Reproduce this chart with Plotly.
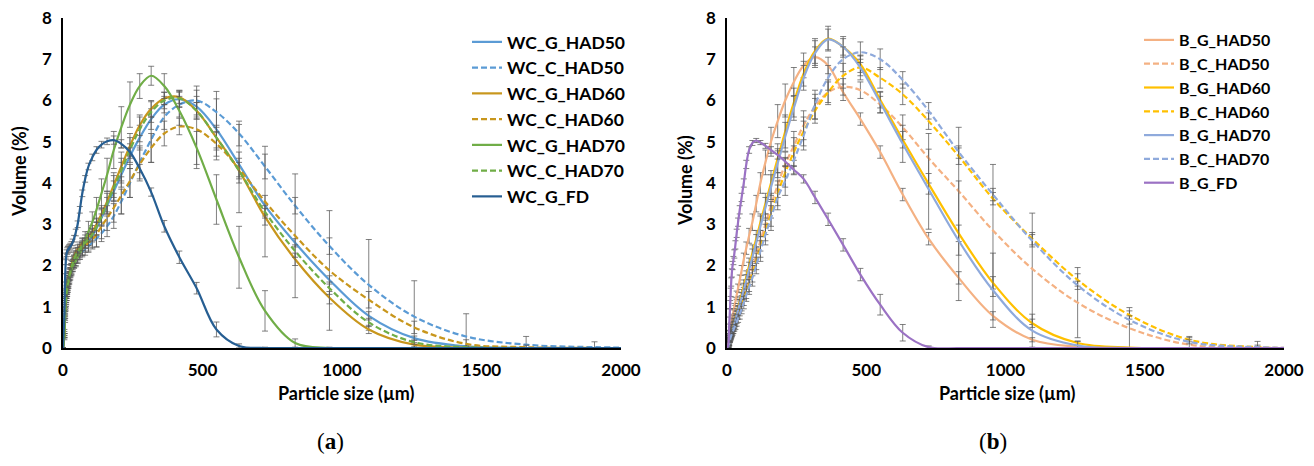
import plotly.graph_objects as go

# particle size classes (um)
x_um = [0, 5.0, 7.6, 10.0, 11.5, 13.2, 15.1, 17.4, 20.0, 22.9,
        26.3, 30.2, 34.7, 39.8, 45.7, 52.5, 60.3, 69.2, 79.4, 91.2,
        105, 120, 138, 158, 182, 209, 240, 275, 316, 363,
        417, 479, 550, 631, 724, 832, 955, 1096, 1259, 1445,
        1660, 1905, 2188]

# ---- panel (a) ----
wc_g_had50 = [0, 0.3, 0.8, 1.1, 1.25, 1.35, 1.45, 1.55, 1.65, 1.75,
              1.85, 1.95, 2.05, 2.15, 2.25, 2.33, 2.4, 2.47, 2.53, 2.6,
              2.72, 2.9, 3.15, 3.45, 3.8, 4.2, 4.65, 5.1, 5.55, 5.9,
              6.03, 5.85, 5.3, 4.45, 3.45, 2.55, 1.65, 0.78, 0.24, 0.04,
              0.0, 0.0, 0.0]
wc_c_had50 = [0, 0.25, 0.7, 1.0, 1.15, 1.25, 1.35, 1.45, 1.55, 1.65,
              1.75, 1.85, 1.95, 2.05, 2.12, 2.2, 2.27, 2.33, 2.4, 2.47,
              2.55, 2.65, 2.78, 2.95, 3.2, 3.55, 4.0, 4.5, 5.05, 5.6,
              5.9, 6.0, 5.72, 5.2, 4.4, 3.45, 2.47, 1.53, 0.76, 0.28,
              0.08, 0.02, 0.0]
wc_g_had60 = [0, 0.35, 0.85, 1.15, 1.3, 1.4, 1.5, 1.6, 1.72, 1.82,
              1.92, 2.02, 2.12, 2.22, 2.32, 2.4, 2.47, 2.55, 2.62, 2.7,
              2.82, 3.0, 3.25, 3.55, 3.95, 4.4, 4.9, 5.4, 5.8, 6.05,
              6.08, 5.75, 5.1, 4.3, 3.18, 2.15, 1.22, 0.45, 0.08, 0.01,
              0.0, 0.0, 0.0]
wc_c_had60 = [0, 0.3, 0.75, 1.05, 1.2, 1.3, 1.4, 1.5, 1.6, 1.7,
              1.8, 1.9, 2.0, 2.1, 2.18, 2.25, 2.32, 2.4, 2.47, 2.55,
              2.63, 2.75, 2.95, 3.15, 3.4, 3.7, 4.05, 4.45, 4.85, 5.2,
              5.37, 5.3, 4.95, 4.35, 3.55, 2.72, 1.88, 1.17, 0.5, 0.1,
              0.02, 0.0, 0.0]
wc_g_had70 = [0, 0.4, 0.9, 1.2, 1.33, 1.42, 1.5, 1.58, 1.66, 1.74,
              1.82, 1.9, 1.98, 2.05, 2.12, 2.2, 2.3, 2.45, 2.62, 2.82,
              3.05, 3.35, 3.75, 4.2, 4.8, 5.35, 5.9, 6.35, 6.6, 6.35,
              5.75, 4.85, 3.6, 2.2, 0.9, 0.12, 0.0, 0.0, 0.0, 0.0,
              0.0, 0.0, 0.0]
wc_c_had70 = [0, 0.3, 0.8, 1.1, 1.25, 1.35, 1.45, 1.55, 1.65, 1.75,
              1.85, 1.95, 2.05, 2.15, 2.25, 2.33, 2.4, 2.48, 2.55, 2.63,
              2.75, 2.93, 3.18, 3.5, 3.88, 4.3, 4.8, 5.3, 5.72, 6.0,
              6.05, 5.75, 5.1, 4.3, 3.3, 2.35, 1.45, 0.62, 0.14, 0.02,
              0.0, 0.0, 0.0]
wc_g_fd = [0, 0.8, 1.7, 2.1, 2.22, 2.3, 2.35, 2.38, 2.4, 2.43,
           2.46, 2.5, 2.56, 2.65, 2.8, 3.0, 3.35, 3.75, 4.1, 4.4,
           4.62, 4.8, 4.93, 5.01, 5.04, 4.95, 4.75, 4.35, 3.78, 2.95,
           2.2, 1.45, 0.45, 0.05, 0.0, 0.0, 0.0, 0.0, 0.0, 0.0,
           0.0, 0.0, 0.0]

wc_g_had50_err = [0, 0.05, 0.08, 0.1, 0.1, 0.1, 0.1, 0.1, 0.1, 0.1,
                  0.1, 0.1, 0.1, 0.1, 0.1, 0.1, 0.1, 0.1, 0.12, 0.12,
                  0.15, 0.15, 0.2, 0.2, 0.25, 0.3, 0.3, 0.3, 0.25, 0.2,
                  0.2, 0.25, 0.74, 0.3, 0.25, 0.1, 0.1, 0.1, 0.05, 0.02,
                  0, 0, 0]
wc_c_had50_err = [0, 0.05, 0.08, 0.1, 0.1, 0.1, 0.1, 0.1, 0.1, 0.1,
                  0.1, 0.1, 0.1, 0.1, 0.12, 0.12, 0.12, 0.12, 0.15, 0.15,
                  0.15, 0.2, 0.2, 0.25, 0.3, 0.3, 0.35, 0.4, 0.55, 0.3,
                  0.3, 0.35, 0.5, 0.3, 0.3, 0.2, 0.2, 1.1, 0.87, 0.55,
                  0.2, 0.13, 0]
wc_g_had60_err = [0, 0.05, 0.08, 0.1, 0.1, 0.1, 0.1, 0.1, 0.1, 0.1,
                  0.1, 0.1, 0.1, 0.1, 0.1, 0.1, 0.1, 0.12, 0.12, 0.12,
                  0.15, 0.15, 0.2, 0.25, 0.3, 0.35, 0.3, 0.25, 0.2, 0.15,
                  0.15, 0.2, 0.3, 0.3, 0.2, 0.15, 0.15, 0.1, 0.05, 0.02,
                  0, 0, 0]
wc_c_had60_err = [0, 0.05, 0.08, 0.1, 0.1, 0.1, 0.1, 0.1, 0.1, 0.1,
                  0.1, 0.1, 0.1, 0.1, 0.12, 0.12, 0.12, 0.15, 0.15, 0.2,
                  0.2, 0.3, 0.3, 0.3, 0.35, 0.45, 0.4, 0.4, 0.35, 0.3,
                  0.2, 0.95, 0.3, 1.07, 1.34, 1.5, 1.45, 0.2, 0.15, 0.1,
                  0.05, 0, 0]
wc_g_had70_err = [0, 0.05, 0.08, 0.1, 0.1, 0.1, 0.1, 0.1, 0.1, 0.1,
                  0.1, 0.12, 0.12, 0.12, 0.15, 0.15, 0.15, 0.2, 0.2, 0.25,
                  0.25, 0.3, 0.35, 0.4, 0.45, 0.5, 0.55, 0.3, 0.23, 0.3,
                  0.35, 0.4, 0.6, 0.75, 0.49, 0.1, 0.02, 0, 0, 0,
                  0, 0, 0]
wc_c_had70_err = [0, 0.05, 0.08, 0.1, 0.1, 0.1, 0.1, 0.1, 0.1, 0.1,
                  0.1, 0.1, 0.1, 0.1, 0.1, 0.1, 0.12, 0.12, 0.12, 0.15,
                  0.15, 0.2, 0.2, 0.25, 0.3, 0.3, 0.3, 0.3, 0.25, 0.2,
                  0.2, 0.2, 0.25, 0.2, 0.15, 0.15, 0.15, 0.1, 0.05, 0.02,
                  0, 0, 0]
wc_g_fd_err = [0, 0.1, 0.1, 0.08, 0.08, 0.08, 0.08, 0.08, 0.08, 0.08,
               0.08, 0.08, 0.08, 0.08, 0.08, 0.08, 0.08, 0.08, 0.08, 0.08,
               0.08, 0.08, 0.08, 0.08, 0.1, 0.1, 0.1, 0.1, 0.1, 0.14,
               0.15, 0.14, 0.18, 0.05, 0.02, 0, 0, 0, 0, 0,
               0, 0, 0]

# ---- panel (b) ----
b_g_had50 = [0, 0.08, 0.2, 0.3, 0.38, 0.45, 0.55, 0.65, 0.75, 0.87,
             1.0, 1.13, 1.28, 1.45, 1.65, 1.88, 2.15, 2.42, 2.72, 3.05,
             3.5, 4.0, 4.5, 5.0, 5.5, 6.0, 6.45, 6.85, 7.05, 6.85,
             6.2, 5.55, 4.75, 3.72, 2.65, 1.7, 0.78, 0.2, 0.03, 0.0,
             0.0, 0.0, 0.0]
b_c_had50 = [0, 0.05, 0.15, 0.25, 0.3, 0.35, 0.4, 0.45, 0.5, 0.55,
             0.62, 0.7, 0.8, 0.9, 1.02, 1.15, 1.32, 1.5, 1.72, 1.95,
             2.25, 2.6, 3.0, 3.45, 3.95, 4.45, 4.9, 5.4, 5.85, 6.2,
             6.33, 6.25, 5.9, 5.35, 4.6, 3.8, 2.85, 1.92, 1.1, 0.48,
             0.08, 0.01, 0.0]
b_g_had60 = [0, 0.05, 0.12, 0.2, 0.25, 0.29, 0.34, 0.4, 0.47, 0.55,
             0.63, 0.74, 0.85, 0.98, 1.12, 1.3, 1.5, 1.72, 2.0, 2.3,
             2.65, 3.05, 3.5, 4.0, 4.6, 5.25, 5.95, 6.65, 7.2, 7.5,
             7.3, 6.88, 6.02, 5.05, 3.98, 2.78, 1.58, 0.6, 0.12, 0.01,
             0.0, 0.0, 0.0]
b_c_had60 = [0, 0.04, 0.12, 0.2, 0.25, 0.3, 0.34, 0.38, 0.43, 0.48,
             0.55, 0.62, 0.7, 0.8, 0.9, 1.02, 1.18, 1.35, 1.55, 1.8,
             2.1, 2.45, 2.85, 3.25, 3.75, 4.25, 4.75, 5.25, 5.75, 6.2,
             6.6, 6.8, 6.55, 6.15, 5.5, 4.65, 3.62, 2.65, 1.65, 0.8,
             0.2, 0.02, 0.0]
b_g_had70 = [0, 0.04, 0.1, 0.18, 0.22, 0.26, 0.31, 0.36, 0.42, 0.5,
             0.58, 0.68, 0.79, 0.92, 1.06, 1.22, 1.42, 1.63, 1.9, 2.2,
             2.55, 2.95, 3.4, 3.9, 4.48, 5.12, 5.82, 6.55, 7.15, 7.48,
             7.3, 6.8, 5.95, 4.95, 3.85, 2.6, 1.4, 0.42, 0.06, 0.0,
             0.0, 0.0, 0.0]
b_c_had70 = [0, 0.03, 0.1, 0.18, 0.22, 0.26, 0.3, 0.34, 0.38, 0.43,
             0.49, 0.55, 0.63, 0.72, 0.82, 0.95, 1.1, 1.28, 1.48, 1.7,
             2.0, 2.35, 2.75, 3.15, 3.65, 4.05, 4.55, 5.15, 5.9, 6.55,
             7.0, 7.17, 7.0, 6.5, 5.75, 4.75, 3.72, 2.6, 1.52, 0.68,
             0.15, 0.02, 0.0]
b_g_fd = [0, 0.1, 0.5, 0.85, 1.05, 1.35, 1.6, 1.82, 2.0, 2.12,
          2.28, 2.5, 2.78, 3.05, 3.35, 3.65, 4.0, 4.45, 4.8, 4.97,
          5.03, 4.98, 4.9, 4.8, 4.68, 4.52, 4.32, 4.1, 3.65, 3.12,
          2.5, 1.78, 1.05, 0.37, 0.02, 0.0, 0.0, 0.0, 0.0, 0.0,
          0.0, 0.0, 0.0]

b_g_had50_err = [0, 0.03, 0.05, 0.05, 0.05, 0.06, 0.06, 0.07, 0.07, 0.08,
                 0.08, 0.1, 0.1, 0.1, 0.12, 0.12, 0.15, 0.15, 0.18, 0.2,
                 0.2, 0.25, 0.3, 0.35, 0.4, 0.4, 0.35, 0.3, 0.25, 0.2,
                 0.2, 0.15, 0.15, 0.15, 0.15, 0.15, 0.1, 0.05, 0.02, 0,
                 0, 0, 0]
b_c_had50_err = [0, 0.03, 0.05, 0.05, 0.05, 0.06, 0.06, 0.07, 0.07, 0.08,
                 0.08, 0.1, 0.1, 0.1, 0.12, 0.12, 0.15, 0.15, 0.18, 0.2,
                 0.2, 0.25, 0.25, 0.3, 0.3, 0.3, 0.35, 0.35, 0.3, 0.25,
                 0.2, 0.2, 0.2, 0.3, 0.6, 1.55, 1.6, 1.35, 0.85, 0.5,
                 0.2, 0.15, 0]
b_g_had60_err = [0, 0.03, 0.05, 0.05, 0.05, 0.06, 0.06, 0.07, 0.07, 0.08,
                 0.08, 0.1, 0.1, 0.1, 0.12, 0.12, 0.15, 0.15, 0.18, 0.2,
                 0.2, 0.2, 0.25, 0.3, 0.35, 0.4, 0.35, 0.3, 0.3, 0.3,
                 0.25, 0.2, 0.2, 0.2, 0.25, 0.2, 0.15, 0.1, 0.05, 0,
                 0, 0, 0]
b_c_had60_err = [0, 0.03, 0.05, 0.05, 0.05, 0.06, 0.06, 0.07, 0.07, 0.08,
                 0.08, 0.1, 0.1, 0.1, 0.12, 0.12, 0.15, 0.15, 0.18, 0.2,
                 0.2, 0.25, 0.25, 0.3, 0.3, 0.35, 0.35, 0.35, 0.3, 0.3,
                 0.3, 0.3, 0.25, 0.25, 0.2, 0.2, 0.15, 0.15, 0.15, 0.1,
                 0.05, 0.02, 0]
b_g_had70_err = [0, 0.03, 0.05, 0.05, 0.05, 0.06, 0.06, 0.07, 0.07, 0.08,
                 0.08, 0.1, 0.1, 0.1, 0.12, 0.12, 0.15, 0.15, 0.18, 0.2,
                 0.2, 0.25, 0.25, 0.3, 0.35, 0.35, 0.3, 0.3, 0.3, 0.25,
                 0.2, 0.2, 0.25, 0.45, 0.97, 1.45, 0.9, 0.4, 0.1, 0.0,
                 0, 0, 0]
b_c_had70_err = [0, 0.03, 0.05, 0.05, 0.05, 0.06, 0.06, 0.07, 0.07, 0.08,
                 0.08, 0.1, 0.1, 0.1, 0.12, 0.12, 0.15, 0.15, 0.18, 0.2,
                 0.2, 0.25, 0.25, 0.3, 0.3, 0.35, 0.35, 0.35, 0.35, 0.3,
                 0.3, 0.25, 0.25, 0.2, 0.2, 0.15, 0.15, 0.15, 0.1, 0.1,
                 0.05, 0.05, 0]
b_g_fd_err = [0, 0.05, 0.08, 0.1, 0.1, 0.1, 0.1, 0.1, 0.1, 0.1,
              0.1, 0.1, 0.1, 0.1, 0.1, 0.1, 0.1, 0.1, 0.08, 0.06,
              0.05, 0.05, 0.06, 0.08, 0.1, 0.1, 0.1, 0.1, 0.15, 0.15,
              0.15, 0.15, 0.25, 0.2, 0.03, 0, 0, 0, 0, 0,
              0, 0, 0]

series_a = [
    ("WC_G_HAD50", wc_g_had50, wc_g_had50_err, "#5b9bd5", "solid"),
    ("WC_C_HAD50", wc_c_had50, wc_c_had50_err, "#5b9bd5", "dash"),
    ("WC_G_HAD60", wc_g_had60, wc_g_had60_err, "#c8961c", "solid"),
    ("WC_C_HAD60", wc_c_had60, wc_c_had60_err, "#c8961c", "dash"),
    ("WC_G_HAD70", wc_g_had70, wc_g_had70_err, "#70ad47", "solid"),
    ("WC_C_HAD70", wc_c_had70, wc_c_had70_err, "#70ad47", "dash"),
    ("WC_G_FD", wc_g_fd, wc_g_fd_err, "#265e92", "solid"),
]
series_b = [
    ("B_G_HAD50", b_g_had50, b_g_had50_err, "#f4b183", "solid"),
    ("B_C_HAD50", b_c_had50, b_c_had50_err, "#f4b183", "dash"),
    ("B_G_HAD60", b_g_had60, b_g_had60_err, "#ffc000", "solid"),
    ("B_C_HAD60", b_c_had60, b_c_had60_err, "#ffc000", "dash"),
    ("B_G_HAD70", b_g_had70, b_g_had70_err, "#8faadc", "solid"),
    ("B_C_HAD70", b_c_had70, b_c_had70_err, "#8faadc", "dash"),
    ("B_G_FD", b_g_fd, b_g_fd_err, "#9b72c4", "solid"),
]

# page has an 8px body margin, so the figure is a bit smaller and positions are shifted
OFF = 8
W, H = 1314 - OFF, 466 - OFF
FONT = "Lato"


def px(xp):
    return (xp - OFF) / W


def py(yp):
    return (H - (yp - OFF)) / H


fig = go.Figure()

for panel, series in ((1, series_a), (2, series_b)):
    for name, y, err, color, dash in series:
        fig.add_trace(go.Scatter(
            x=x_um, y=y, name=name, mode="lines",
            xaxis="x" if panel == 1 else "x2",
            yaxis="y" if panel == 1 else "y2",
            legend="legend" if panel == 1 else "legend2",
            line=dict(color=color, width=2.2, shape="spline", smoothing=1.0,
                      dash="solid" if dash == "solid" else "6px,3px"),
            error_y=dict(type="data", array=err, visible=True,
                         color="rgba(85,85,85,0.75)", thickness=1, width=3),
        ))

axis_common = dict(showgrid=False, zeroline=False, showline=True, linecolor="black",
                   linewidth=1.5, ticks="", automargin=False, ticklabelstandoff=6,
                   ticklabeloverflow="allow",
                   tickfont=dict(family=FONT, size=17, color="black", weight="bold"))

ydom = [py(348), py(18)]
fig.update_layout(
    width=W, height=H,
    margin=dict(l=0, r=0, t=0, b=0),
    paper_bgcolor="white", plot_bgcolor="white",
    font=dict(family=FONT, color="black"),
    xaxis=dict(domain=[px(63), px(621)], range=[0, 2000], tickvals=[0, 500, 1000, 1500, 2000],
               anchor="y", **axis_common),
    yaxis=dict(domain=ydom, range=[0, 8], tickvals=[0, 1, 2, 3, 4, 5, 6, 7, 8], anchor="x", **axis_common),
    xaxis2=dict(domain=[px(727), px(1284)], range=[0, 2000], tickvals=[0, 500, 1000, 1500, 2000],
                anchor="y2", **axis_common),
    yaxis2=dict(domain=ydom, range=[0, 8], tickvals=[0, 1, 2, 3, 4, 5, 6, 7, 8], anchor="x2", **axis_common),
    legend=dict(x=px(467), y=py(24), xanchor="left", yanchor="top", bgcolor="rgba(0,0,0,0)",
                font=dict(family=FONT, size=17.5, color="black", weight="bold"), itemwidth=30),
    legend2=dict(x=px(1139), y=py(23), xanchor="left", yanchor="top", bgcolor="rgba(0,0,0,0)",
                 font=dict(family=FONT, size=16, color="black", weight="bold"), itemwidth=30),
)

labels = [
    dict(text="Volume (%)", x=19, y=172, textangle=-90),
    dict(text="Volume (%)", x=685, y=181, textangle=-90),
    dict(text="Particle size (µm)", x=346, y=393, textangle=0),
    dict(text="Particle size (µm)", x=1007, y=393, textangle=0),
]
for lab in labels:
    fig.add_annotation(text=lab["text"], x=px(lab["x"]), y=py(lab["y"]), xref="paper", yref="paper",
                       showarrow=False, textangle=lab["textangle"], xanchor="center", yanchor="middle",
                       font=dict(family=FONT, size=18, color="black", weight="bold"))

for cap, cx in (("a", 330), ("b", 993)):
    fig.add_annotation(text="(<b>" + cap + "</b>)", x=px(cx), y=py(441), xref="paper", yref="paper",
                       showarrow=False, xanchor="center", yanchor="middle",
                       font=dict(family="Liberation Serif", size=23, color="black"))

fig.write_html("out.html")
